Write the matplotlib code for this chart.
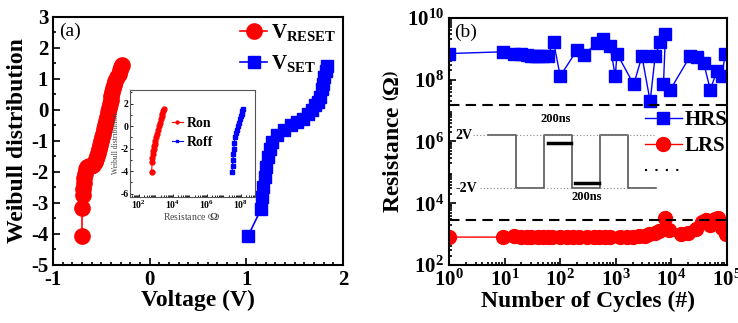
import numpy as np
import matplotlib
matplotlib.use('Agg')
import matplotlib.pyplot as plt
from matplotlib.ticker import MultipleLocator, LogLocator, NullFormatter
from matplotlib.lines import Line2D

plt.rcParams['font.family'] = ['Liberation Serif', 'DejaVu Serif']
plt.rcParams['font.weight'] = 'bold'
plt.rcParams['axes.unicode_minus'] = False
plt.rcParams['mathtext.fontset'] = 'custom'
plt.rcParams['mathtext.rm'] = 'Liberation Serif:bold'
plt.rcParams['mathtext.bf'] = 'Liberation Serif:bold'
plt.rcParams['mathtext.it'] = 'Liberation Serif:bold'

# ---- (a) Weibull distribution of switching voltages
v_reset = [-0.70, -0.70, -0.69, -0.685, -0.68, -0.675, -0.665, -0.655, -0.645, -0.625,
           -0.605, -0.585, -0.565, -0.555, -0.545, -0.535, -0.525, -0.515, -0.505, -0.495,
           -0.485, -0.475, -0.465, -0.455, -0.445, -0.435, -0.425, -0.415, -0.405, -0.395,
           -0.385, -0.375, -0.365, -0.355, -0.34, -0.32, -0.305, -0.295, -0.29]
w_reset = [-4.05, -3.15, -2.75, -2.55, -2.35, -2.20, -2.05, -1.92, -1.85, -1.82,
           -1.80, -1.76, -1.68, -1.58, -1.48, -1.38, -1.25, -1.12, -1.00, -0.88,
           -0.76, -0.62, -0.50, -0.36, -0.22, -0.08, 0.05, 0.18, 0.32, 0.45,
           0.58, 0.70, 0.82, 0.94, 1.05, 1.15, 1.28, 1.38, 1.45]

v_set = [1.02, 1.155, 1.16, 1.17, 1.19, 1.20, 1.22, 1.24, 1.27, 1.32, 1.39, 1.46,
         1.52, 1.59, 1.64, 1.68, 1.71, 1.74, 1.76, 1.78, 1.79, 1.80, 1.82, 1.83]
w_set = [-4.05, -3.18, -2.81, -2.48, -2.16, -1.84, -1.52, -1.25, -1.03, -0.82,
         -0.66, -0.49, -0.39, -0.28, -0.12, -0.01, 0.15, 0.26, 0.42, 0.69,
         0.85, 1.05, 1.25, 1.42]

# inset: Weibull of resistances
r_on = [560, 600, 620, 650, 700, 750, 800, 850, 900, 1000, 1100, 1300, 1500,
        1800, 2000, 2200, 2400, 2600, 2800]
w_on = [-4.05, -3.2, -2.8, -2.5, -2.2, -2.0, -1.8, -1.6, -1.3, -1.0, -0.7,
        -0.3, 0.0, 0.3, 0.6, 0.9, 1.1, 1.3, 1.5]
r_off = [3.0e7, 3.2e7, 3.4e7, 3.6e7, 3.8e7, 4.0e7, 4.5e7, 5.0e7, 6.0e7, 7.0e7,
         8.0e7, 9.0e7, 1.0e8, 1.1e8, 1.2e8, 1.3e8]
w_off = [-4.05, -3.5, -3.0, -2.5, -2.0, -1.5, -1.0, -0.6, -0.3, 0.0, 0.3, 0.6,
         0.9, 1.1, 1.3, 1.5]

# ---- (b) endurance
hrs_n = [1, 9.5, 15, 20, 25, 30, 35, 40, 50, 60, 76, 100, 200, 263, 457, 600,
         790, 980, 1050, 2100, 2950, 4150, 5100, 6300, 7800, 7200, 9600, 22000,
         29000, 38000, 50000, 66000, 81000, 93000]
hrs_r = [7e8, 8e8, 7e8, 7e8, 6.5e8, 6e8, 6e8, 6e8, 6e8, 6e8, 1.7e9, 1.3e8,
         9e8, 6.5e8, 1.5e9, 2e9, 1.2e9, 1.3e8, 7e8, 7e7, 5.7e8, 2e7, 5.7e8,
         1.7e9, 2.9e9, 7e7, 4.8e7, 6e8, 5.5e8, 3.5e8, 4.8e7, 1.9e8, 1.3e8, 7e8]
lrs_n = [1, 9.5, 15, 20, 25, 30, 40, 50, 60, 70, 100, 130, 170, 220, 300, 400,
         500, 650, 800, 1200, 1600, 2000, 2600, 3300, 4000, 5000, 6000, 7800,
         9000, 15000, 20000, 28000, 35000, 42000, 50000, 60000, 70000, 80000, 95000]
lrs_r = [8e2, 8e2, 8.5e2, 8e2, 8e2, 8e2, 8e2, 8e2, 8e2, 8e2, 8e2, 8e2, 8e2,
         8e2, 8e2, 8e2, 8e2, 8e2, 8e2, 8e2, 8e2, 8e2, 8.5e2, 9e2, 1e3, 1.1e3,
         1.3e3, 3.2e3, 1.4e3, 1e3, 1.1e3, 1.5e3, 2.5e3, 2.8e3, 2.0e3, 3.0e3,
         3.4e3, 1.6e3, 1.0e3]
hrs_ref = 1.5e7
lrs_ref = 2.9e3

# pulse scheme (ns, V)
pulse_t = [0, 200, 200, 400, 400, 600, 600, 800, 800, 1000, 1000, 1200]
pulse_v = [2, 2, -2, -2, 2, 2, -2, -2, 2, 2, -2, -2]
read_set_t = [430, 590]
read_set_v = [1.4, 1.4]
read_reset_t = [620, 790]
read_reset_v = [-1.6, -1.6]

fig = plt.figure(figsize=(7.38, 3.23), dpi=100)

# ---------------- panel (a)
ax1 = fig.add_axes([0.0718, 0.1796, 0.393, 0.768])
ax1.plot(v_reset, w_reset, '-o', color='red', ms=11, lw=1.2, label=r'V$_{\mathrm{RESET}}$')
ax1.plot(v_set, w_set, '-s', color='blue', ms=9, lw=1.2, label=r'V$_{\mathrm{SET}}$')
ax1.set_xlim(-1, 2)
ax1.set_ylim(-5, 3)
ax1.xaxis.set_major_locator(MultipleLocator(1))
ax1.xaxis.set_minor_locator(MultipleLocator(0.1))
ax1.yaxis.set_major_locator(MultipleLocator(1))
ax1.yaxis.set_minor_locator(MultipleLocator(0.5))
ax1.tick_params(which='both', direction='in', labelsize=15, width=1.2)
ax1.tick_params(which='major', length=5)
ax1.tick_params(which='minor', length=2.5)
for s in ax1.spines.values():
    s.set_linewidth(1.5)
ax1.set_xlabel('Voltage (V)', fontsize=17, fontweight='bold', labelpad=0)
ax1.set_ylabel('Weibull distribution', fontsize=17, fontweight='bold', labelpad=2)
ax1.text(0.02, 0.975, '(a)', transform=ax1.transAxes, fontsize=14,
         fontweight='normal', va='top', ha='left')
ax1.legend(loc='upper right', bbox_to_anchor=(1.02, 1.03), frameon=False,
           fontsize=15, handlelength=1.3, handletextpad=0.2, labelspacing=0.5,
           borderaxespad=0.2)

# inset of (a)
axi = fig.add_axes([0.176, 0.390, 0.1694, 0.331])
axi.plot(r_on, w_on, '-o', color='red', ms=3.5, lw=0.8, label='Ron')
axi.plot(r_off, w_off, '-s', color='blue', ms=3.2, lw=0.8, label='Roff')
axi.set_xscale('log')
axi.set_xlim(10**1.47, 10**8.82)
axi.set_ylim(-6.3, 3.2)
axi.set_xticks([1e2, 1e4, 1e6, 1e8])
axi.xaxis.set_minor_locator(LogLocator(base=10, subs=np.arange(2, 10), numticks=20))
axi.xaxis.set_minor_formatter(NullFormatter())
axi.yaxis.set_major_locator(MultipleLocator(2))
axi.yaxis.set_minor_locator(MultipleLocator(1))
axi.tick_params(which='both', direction='in', labelsize=7, width=0.6, pad=1)
axi.tick_params(which='major', length=2.5)
axi.tick_params(which='minor', length=1.2)
for s in axi.spines.values():
    s.set_linewidth(0.8)
    s.set_color('#555555')
axi.set_xlabel(r'Resistance $\left(\Omega\right)$', fontsize=7, labelpad=0, color='#444444')
axi.set_ylabel('Weibull distribution', fontsize=5.5, labelpad=0, color='#444444')
axi.legend(loc='center', bbox_to_anchor=(0.5, 0.6), frameon=False, fontsize=10,
           handlelength=0.8, handletextpad=0.3, labelspacing=0.4,
           markerscale=0.6)

# ---------------- panel (b)
ax2 = fig.add_axes([0.6084, 0.1796, 0.3767, 0.765])
ax2.plot(hrs_n, hrs_r, '-s', color='blue', ms=9, lw=1.0, label='HRS')
ax2.plot(lrs_n, lrs_r, '-o', color='red', ms=10, lw=1.0, label='LRS')
ax2.axhline(hrs_ref, color='black', ls=(0, (5, 3)), lw=1.5)
ax2.axhline(lrs_ref, color='black', ls=(0, (5, 3)), lw=1.5)
ax2.set_xscale('log')
ax2.set_yscale('log')
ax2.set_xlim(1, 1e5)
ax2.set_ylim(1e2, 1e10)
ax2.set_xticks([1, 1e1, 1e2, 1e3, 1e4, 1e5])
ax2.set_yticks([1e2, 1e4, 1e6, 1e8, 1e10])
ax2.xaxis.set_minor_locator(LogLocator(base=10, subs=np.arange(2, 10), numticks=20))
ax2.yaxis.set_minor_locator(LogLocator(base=10, subs=np.arange(2, 10), numticks=40))
ax2.xaxis.set_minor_formatter(NullFormatter())
ax2.yaxis.set_minor_formatter(NullFormatter())
ax2.tick_params(which='both', direction='in', labelsize=15, width=1.2)
ax2.tick_params(which='major', length=5)
ax2.tick_params(which='minor', length=2.5)
for s in ax2.spines.values():
    s.set_linewidth(1.5)
ax2.set_xlabel('Number of Cycles (#)', fontsize=17, fontweight='bold', labelpad=0)
ax2.set_ylabel(r'Resistance $\left(\Omega\right)$', fontsize=17, fontweight='bold', labelpad=2)
ax2.text(0.02, 0.975, '(b)', transform=ax2.transAxes, fontsize=14,
         fontweight='normal', va='top', ha='left')
handles = [Line2D([], [], color='blue', marker='s', ms=9, lw=1.0),
           Line2D([], [], color='red', marker='o', ms=10, lw=1.0),
           Line2D([], [], color='black', ls=(0, (1, 4)), lw=1.5)]
ax2.legend(handles, ['HRS', 'LRS', ' '], loc='upper right',
           bbox_to_anchor=(1.03, 0.66), frameon=False, fontsize=15,
           handlelength=1.8, handletextpad=0.1, labelspacing=0.3,
           borderaxespad=0.0)

# pulse scheme inset of (b)
axp = fig.add_axes([0.6233, 0.3653, 0.2778, 0.294])
axp.set_xlim(-200, 1264)
axp.set_ylim(-3.28, 3.89)
axp.axis('off')
axp.plot(pulse_t, pulse_v, color='#555555', lw=1.2)
axp.plot([-110, 1190], [2, 2], color='#888888', ls=(0, (1, 2)), lw=0.8)
axp.plot([-60, 1200], [-2, -2], color='#888888', ls=(0, (1, 2)), lw=0.8)
axp.plot(read_set_t, read_set_v, color='black', lw=2.5)
axp.plot(read_reset_t, read_reset_v, color='black', lw=2.5)
axp.text(-110, 2, '2V', ha='right', va='center', fontsize=10)
axp.text(-75, -2, '-2V', ha='right', va='center', fontsize=10)
axp.text(480, 3.2, '200ns', ha='center', va='center', fontsize=9)
axp.text(707, -2.7, '200ns', ha='center', va='center', fontsize=9)

fig.savefig('out.png', dpi=100)
